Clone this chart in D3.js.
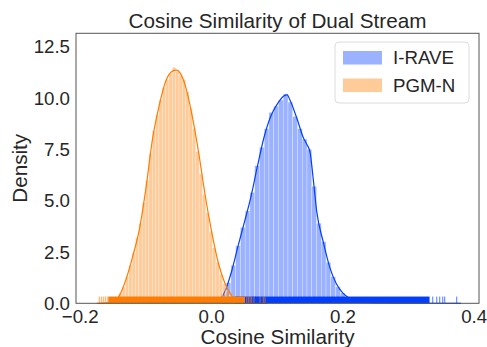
<!DOCTYPE html>
<html>
<head>
<meta charset="utf-8">
<script src="https://cdn.jsdelivr.net/npm/d3@7"></script>
<style>
  body { margin: 0; background: #fff; }
  svg text { font-family: "Liberation Sans", Arial, sans-serif; fill: #262626; }
</style>
</head>
<body>
<svg id="viz" width="487" height="347"></svg>
<script>
// series names and colours (seaborn "bright")
var seriesNames = ['I-RAVE', 'PGM-N'];
var seriesColors = ['#023eff', '#ff7c00'];

// histogram bins: start, bin width, density per bin (50 bins each)
var raveBinStart = 0.015, raveBinWidth = 0.00724;
var raveDensity = [0.45, 1.0, 1.85, 2.8, 3.7, 4.5, 5.4, 6.7, 7.6, 8.5,
  9.3, 9.6, 9.9, 10.2, 9.8, 9.1, 8.5, 8.0, 7.5, 5.7,
  3.9, 3.0, 2.0, 1.3, 0.8, 0.5, 0.3, 0.18, 0.1, 0.06,
  0.04, 0.03, 0.02, 0.015, 0.01, 0.01, 0.008, 0.005, 0.005, 0.004,
  0.003, 0.003, 0.002, 0.002, 0.002, 0.001, 0.001, 0.001, 0.0, 0.001];

var pgmBinStart = -0.172, pgmBinWidth = 0.0051;
var pgmDensity = [0.01, 0.02, 0.03, 0.05, 0.1, 0.25, 0.5, 0.8, 1.3, 1.85,
  2.45, 3.2, 3.9, 4.9, 6.0, 7.3, 8.4, 9.2, 9.9, 10.5,
  10.9, 11.2, 11.5, 11.3, 11.1, 10.9, 10.3, 9.5, 8.5, 7.4,
  6.3, 5.3, 4.4, 3.5, 2.7, 2.0, 1.4, 0.95, 0.6, 0.38,
  0.2, 0.12, 0.07, 0.04, 0.02, 0.01, 0.01, 0.005, 0.005, 0.005];

// kde curves
var raveKdeX = [0.01, 0.02, 0.03, 0.04, 0.05, 0.06, 0.07, 0.08, 0.09, 0.10, 0.11, 0.115, 0.12, 0.13, 0.14, 0.145, 0.15, 0.155, 0.16, 0.17, 0.18, 0.19, 0.20, 0.21, 0.22, 0.24, 0.28, 0.33, 0.38];
var raveKdeY = [0.05, 0.55, 1.5, 2.75, 3.95, 5.2, 6.7, 8.1, 9.1, 9.7, 10.1, 10.15, 9.85, 9.0, 8.05, 7.75, 7.35, 6.0, 4.5, 3.0, 1.75, 0.95, 0.5, 0.25, 0.1, 0.03, 0.01, 0.003, 0.0];
var pgmKdeX = [-0.175, -0.16, -0.15, -0.14, -0.13, -0.12, -0.11, -0.10, -0.09, -0.08, -0.07, -0.06, -0.054, -0.05, -0.04, -0.03, -0.02, -0.01, 0.00, 0.01, 0.02, 0.03, 0.04, 0.05, 0.06, 0.085];
var pgmKdeY = [0.0, 0.02, 0.06, 0.4, 1.2, 2.3, 3.6, 5.6, 8.0, 9.6, 10.8, 11.3, 11.36, 11.3, 10.6, 9.2, 7.4, 5.3, 3.5, 2.0, 1.0, 0.4, 0.12, 0.03, 0.01, 0.0];

// rug: dense bands [from, to] and single sparse ticks
var raveRugBand = [0.035, 0.332];
var raveRugTicks = [0.0631, 0.0669, 0.0707, 0.3369, 0.343, 0.3475, 0.3521, 0.3551, 0.3734];
var pgmRugBand = [-0.1574, 0.0509];
var pgmRugTicks = [-0.1711, -0.168, -0.165, -0.162, -0.159, 0.0535, 0.056, 0.0586, 0.0611, 0.0646, 0.0738, 0.0788, 0.0814];

var xTicks = [-0.2, 0.0, 0.2, 0.4];
var yTicks = [0, 2.5, 5, 7.5, 10, 12.5];

var svg = d3.select('#viz');
var plotLeft = 76, plotRight = 479, plotTop = 33.3, plotBottom = 303.3;

var x = d3.scaleLinear().domain([-0.2065, 0.4073]).range([plotLeft, plotRight]);
var y = d3.scaleLinear().domain([0, 13.15]).range([plotBottom, plotTop]);

var plot = svg.append('g');

function drawSeries(start, width, dens, kx, ky, color) {
    plot.append('g').selectAll('rect')
        .data(dens)
        .enter()
        .append('rect')
        .attr('x', function (d, i) { return x(start + i * width); })
        .attr('width', function (d, i) { return x(start + (i + 1) * width) - x(start + i * width); })
        .attr('y', function (d) { return y(d); })
        .attr('height', function (d) { return y(0) - y(d); })
        .attr('fill', color)
        .attr('fill-opacity', 0.4)
        .attr('stroke', '#fff')
        .attr('stroke-opacity', 0.6)
        .attr('stroke-width', 0.5);

    var line = d3.line()
        .x(function (d, i) { return x(kx[i]); })
        .y(function (d) { return y(d); })
        .curve(d3.curveMonotoneX);
    plot.append('path')
        .datum(ky)
        .attr('d', line)
        .attr('fill', 'none')
        .attr('stroke', color)
        .attr('stroke-width', 1.2);
}

drawSeries(raveBinStart, raveBinWidth, raveDensity, raveKdeX, raveKdeY, seriesColors[0]);
drawSeries(pgmBinStart, pgmBinWidth, pgmDensity, pgmKdeX, pgmKdeY, seriesColors[1]);

var rugH = (plotBottom - plotTop) * 0.025;
function drawRug(band, ticks, color) {
    plot.append('rect')
        .attr('x', x(band[0]))
        .attr('width', x(band[1]) - x(band[0]))
        .attr('y', plotBottom - rugH)
        .attr('height', rugH)
        .attr('fill', color);
    plot.append('g').selectAll('line')
        .data(ticks)
        .enter()
        .append('line')
        .attr('x1', function (d) { return x(d); })
        .attr('x2', function (d) { return x(d); })
        .attr('y1', plotBottom)
        .attr('y2', plotBottom - rugH)
        .attr('stroke', color)
        .attr('stroke-opacity', 0.7)
        .attr('stroke-width', 1);
}
drawRug(raveRugBand, raveRugTicks, seriesColors[0]);
drawRug(pgmRugBand, pgmRugTicks, seriesColors[1]);

// frame
svg.append('rect')
    .attr('x', plotLeft).attr('y', plotTop)
    .attr('width', plotRight - plotLeft).attr('height', plotBottom - plotTop)
    .attr('fill', 'none')
    .attr('stroke', '#555')
    .attr('stroke-width', 1);

// tick labels
svg.append('g').selectAll('text')
    .data(xTicks)
    .enter()
    .append('text')
    .attr('x', function (d) { return x(d); })
    .attr('y', 323)
    .attr('text-anchor', 'middle')
    .style('font-size', '18.7px')
    .text(function (d) { return d3.format('.1f')(d).replace('-', '\u2212'); });

svg.append('g').selectAll('text')
    .data(yTicks)
    .enter()
    .append('text')
    .attr('x', 70)
    .attr('y', function (d) { return y(d); })
    .attr('dy', '0.36em')
    .attr('text-anchor', 'end')
    .style('font-size', '18.7px')
    .text(function (d) { return d3.format('.1f')(d); });

// titles
svg.append('text')
    .attr('x', (plotLeft + plotRight) / 2).attr('y', 28)
    .attr('text-anchor', 'middle')
    .style('font-size', '20.7px')
    .text('Cosine Similarity of Dual Stream');

svg.append('text')
    .attr('x', (plotLeft + plotRight) / 2).attr('y', 344)
    .attr('text-anchor', 'middle')
    .style('font-size', '20.7px')
    .text('Cosine Similarity');

svg.append('text')
    .attr('transform', 'translate(27,' + (plotTop + plotBottom) / 2 + ') rotate(-90)')
    .attr('text-anchor', 'middle')
    .style('font-size', '20.7px')
    .text('Density');

// legend
var legend = svg.append('g');
legend.append('rect')
    .attr('x', 335).attr('y', 42)
    .attr('width', 134).attr('height', 61)
    .attr('rx', 4)
    .attr('fill', '#fff').attr('fill-opacity', 0.8)
    .attr('stroke', '#dcdcdc').attr('stroke-width', 1);

var items = legend.selectAll('g.item')
    .data(seriesNames)
    .enter()
    .append('g')
    .attr('transform', function (d, i) { return 'translate(0,' + (i * 27.5) + ')'; });
items.append('rect')
    .attr('x', 343).attr('y', 51)
    .attr('width', 39).attr('height', 13.5)
    .attr('fill', function (d, i) { return seriesColors[i]; })
    .attr('fill-opacity', 0.4);
items.append('text')
    .attr('x', 393).attr('y', 57.5)
    .attr('dy', '0.36em')
    .style('font-size', '18.7px')
    .text(function (d) { return d; });
</script>
</body>
</html>
